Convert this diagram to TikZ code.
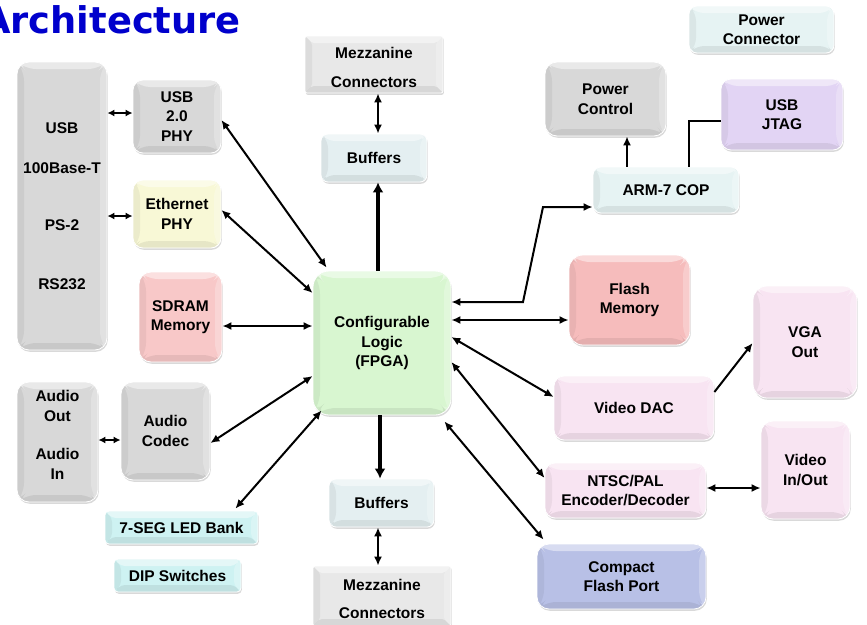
\documentclass[tikz,border=0pt]{standalone}
\usepackage{fontspec}
\setmainfont{Liberation Sans}
\newfontfamily\titlefont{DejaVu Sans}
\usetikzlibrary{arrows.meta,calc,shadows}

\definecolor{cTitle}{RGB}{0,0,204}
\definecolor{cGray}{RGB}{216,216,216}
\definecolor{cMezz}{RGB}{232,232,232}
\definecolor{cBuf}{RGB}{228,239,241}
\definecolor{cCyanPale}{RGB}{230,243,243}
\definecolor{cYellow}{RGB}{248,248,214}
\definecolor{cSdram}{RGB}{248,200,200}
\definecolor{cFlash}{RGB}{246,188,188}
\definecolor{cGreen}{RGB}{216,246,208}
\definecolor{cLilac}{RGB}{226,212,244}
\definecolor{cPink}{RGB}{248,228,242}
\definecolor{cBlue}{RGB}{184,192,230}
\definecolor{cAqua}{RGB}{206,242,242}

\tikzset{
  % bevelled frame: lighter top and right bands, darker left and bottom bands
  bevel/.style={path picture={
    \coordinate (bvSW) at (path picture bounding box.south west);
    \coordinate (bvNE) at (path picture bounding box.north east);
    \coordinate (bvNW) at (bvSW |- bvNE);
    \coordinate (bvSE) at (bvNE |- bvSW);
    \coordinate (inSW) at ([shift={(7pt,7pt)}]bvSW);
    \coordinate (inNE) at ([shift={(-7pt,-7pt)}]bvNE);
    \coordinate (inNW) at ([shift={(7pt,-7pt)}]bvNW);
    \coordinate (inSE) at ([shift={(-7pt,7pt)}]bvSE);
    \fill[white, opacity=0.45] (bvNW) -- (bvNE) -- (inNE) -- (inNW) -- cycle;
    \fill[white, opacity=0.25] (bvNE) -- (bvSE) -- (inSE) -- (inNE) -- cycle;
    \fill[black, opacity=0.05] (bvNW) -- (inNW) -- (inSW) -- (bvSW) -- cycle;
    \fill[black, opacity=0.07] (bvSW) -- (inSW) -- (inSE) -- (bvSE) -- cycle;
  }},
  blk/.style={rectangle, inner sep=2pt, align=center,
    font=\fontsize{15.5}{19.5}\selectfont\bfseries, text=black,
    draw=white, line width=0.8pt, bevel,
    drop shadow={shadow xshift=0.8pt, shadow yshift=-1.8pt, opacity=0.3, fill=gray}},
  dlink/.style={line width=2pt, {Latex[length=9pt,width=8pt]}-{Latex[length=9pt,width=8pt]}},
  sarrow/.style={line width=2pt, -{Latex[length=9pt,width=8pt]}},
  fatarrow/.style={line width=3.5pt, -{Latex[length=10pt,width=11pt]}},
  shortlink/.style={line width=1.8pt, {Latex[length=7pt,width=7pt]}-{Latex[length=7pt,width=7pt]}},
  plainline/.style={line width=2pt},
}

\begin{document}
\begin{tikzpicture}[x=1pt,y=-1pt]
\useasboundingbox (0,0) rectangle (867,624);

% heading
\node[anchor=base west, inner sep=0, text=cTitle,
      font=\titlefont\bfseries\fontsize{36.8}{40}\selectfont] (title) at (-18,33) {Architecture};

% left side: external interfaces
\node[blk, fill=cGray, rounded corners=12pt, minimum width=90pt, minimum height=288pt] (big) at (62,206)
  {USB\\[21pt]100Base-T\\[37pt]PS-2\\[40pt]RS232};
\node[blk, fill=cGray, rounded corners=10pt, minimum width=88pt, minimum height=73pt] (usbphy) at (177,116.5) {USB\\2.0\\PHY};
\node[blk, fill=cYellow, rounded corners=10pt, minimum width=88pt, minimum height=68pt] (eth) at (177,214) {Ethernet\\PHY};
\node[blk, fill=cSdram, rounded corners=12pt, minimum width=83pt, minimum height=90pt] (sdram) at (180.5,317) {SDRAM\\Memory};
\node[blk, fill=cGray, rounded corners=12pt, minimum width=81pt, minimum height=120pt, text depth=14pt] (audio) at (57.5,442)
  {Audio\\Out\\[19pt]Audio\\In};
\node[blk, fill=cGray, rounded corners=12pt, minimum width=89pt, minimum height=98pt] (codec) at (165.5,431) {Audio\\Codec};
\node[blk, fill=cAqua, rounded corners=4pt, minimum width=153pt, minimum height=33pt] (seg) at (181.5,527.5) {7-SEG LED Bank};
\node[blk, fill=cAqua, rounded corners=4pt, minimum width=127pt, minimum height=33pt] (dip) at (177.5,575.5) {DIP Switches};

% centre column
\node[blk, fill=cMezz, rounded corners=2pt, minimum width=138pt, minimum height=57pt] (mezzT) at (374,64.5) {\rule{0pt}{17pt}Mezzanine\\[9pt]Connectors};
\node[blk, fill=cBuf, rounded corners=7pt, minimum width=106pt, minimum height=48pt] (bufT) at (374,158) {Buffers};
\node[blk, fill=cGreen, rounded corners=16pt, minimum width=138pt, minimum height=144pt] (fpga) at (382,343) {Configurable\\Logic\\(FPGA)};
\node[blk, fill=cBuf, rounded corners=7pt, minimum width=105pt, minimum height=48pt] (bufB) at (381.5,503) {Buffers};
\node[blk, fill=cMezz, rounded corners=2pt, minimum width=138pt, minimum height=60pt] (mezzB) at (382,596) {\rule{0pt}{17pt}Mezzanine\\[9pt]Connectors};

% right side
\node[blk, fill=cCyanPale, rounded corners=8pt, minimum width=145pt, minimum height=47pt] (pconn) at (761.5,29.5) {Power\\Connector};
\node[blk, fill=cGray, rounded corners=12pt, minimum width=121pt, minimum height=74pt] (pctl) at (605.5,99) {Power\\Control};
\node[blk, fill=cLilac, rounded corners=10pt, minimum width=122pt, minimum height=71pt] (jtag) at (782,114.5) {USB\\JTAG};
\node[blk, fill=cCyanPale, rounded corners=8pt, minimum width=146pt, minimum height=46pt] (arm) at (666,190) {ARM-7 COP};
\node[blk, fill=cFlash, rounded corners=14pt, minimum width=121pt, minimum height=90pt] (flash) at (629.5,300) {Flash\\Memory};
\node[blk, fill=cPink, rounded corners=14pt, minimum width=104pt, minimum height=112pt] (vga) at (805,342) {VGA\\Out};
\node[blk, fill=cPink, rounded corners=10pt, minimum width=160pt, minimum height=64pt] (dac) at (634,408) {Video DAC};
\node[blk, fill=cPink, rounded corners=10pt, minimum width=161pt, minimum height=55pt] (ntsc) at (625.5,490.5) {NTSC/PAL\\Encoder/Decoder};
\node[blk, fill=cPink, rounded corners=12pt, minimum width=89pt, minimum height=98pt] (vio) at (805.5,470) {Video\\In/Out};
\node[blk, fill=cBlue, rounded corners=12pt, minimum width=169pt, minimum height=65pt] (cf) at (621.5,576.5) {Compact\\Flash Port};

% short links to the connectors
\draw[shortlink] (big.east |- 0,113) -- (usbphy.west |- 0,113);
\draw[shortlink] (big.east |- 0,216) -- (eth.west |- 0,216);
\draw[shortlink] (audio.east |- 0,440) -- (codec.west |- 0,440);

% buses around the FPGA
\draw[dlink] (usbphy.east |- 0,120) -- ($(fpga.north west)+(14,-3)$);
\draw[dlink] (eth.east |- 0,210) -- (fpga.west |- 0,293);
\draw[dlink] (sdram.east |- 0,326) -- (fpga.west |- 0,326);
\draw[dlink] (codec.east |- 0,443) -- (fpga.west |- 0,376);
\draw[dlink] ($(seg.north east)+(-23,-2)$) -- ($(fpga.south west)+(9,-5)$);

\draw[fatarrow] (fpga.north -| 378,0) -- (bufT.south -| 378,0);
\draw[dlink, line width=2.5pt] (mezzT.south -| 378,0) -- (bufT.north -| 378,0);
\draw[fatarrow] (fpga.south -| 380,0) -- (bufB.north -| 380,0);
\draw[dlink, line width=2.5pt] (bufB.south -| 378,0) -- (mezzB.north -| 378,0);

\draw[dlink] (fpga.east |- 0,302) -- (523,302) -- (543,207) -- (arm.west |- 0,207);
\draw[dlink] (fpga.east |- 0,320) -- (flash.west |- 0,320);
\draw[dlink] (fpga.east |- 0,337) -- (dac.west |- 0,397);
\draw[dlink] (fpga.east |- 0,362) -- (ntsc.west |- 0,478);
\draw[dlink] ($(fpga.south east)+(-7,6)$) -- ($(cf.north west)+(7,-4)$);

% video and control paths
\draw[sarrow] (dac.east |- 0,392) -- (vga.west |- 0,343);
\draw[dlink] (ntsc.east |- 0,488) -- (vio.west |- 0,488);
\draw[sarrow] (arm.north -| 627,0) -- (pctl.south -| 627,0);
\draw[plainline] (arm.north -| 689,0) |- (jtag.west |- 0,121);
\end{tikzpicture}
\end{document}
